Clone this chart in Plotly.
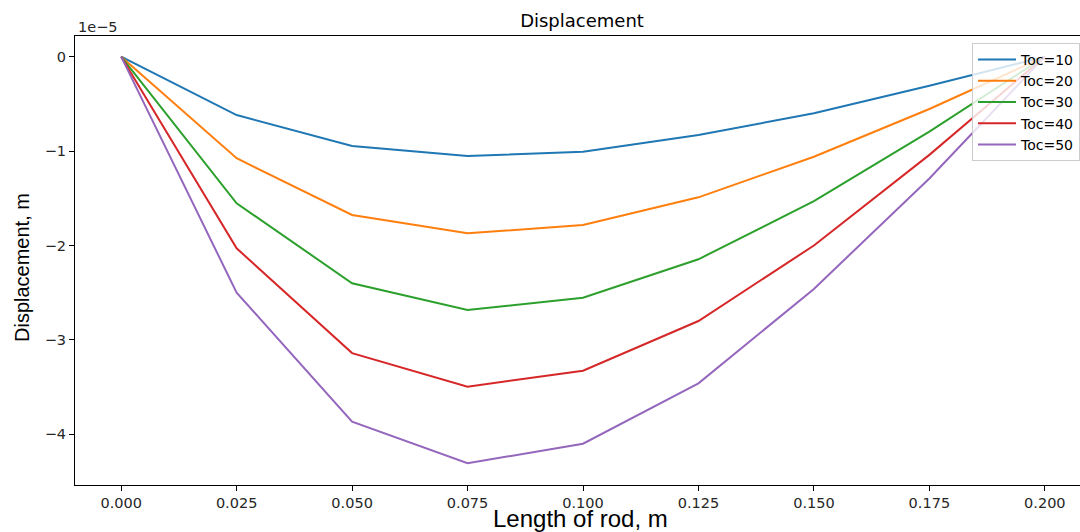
import plotly.graph_objects as go
import numpy as np

# Data (displacement in units of 1e-5 m)
x_len = [0.0, 0.025, 0.05, 0.075, 0.1, 0.125, 0.15, 0.175, 0.2]
disp_toc10 = [0, -0.618, -0.946, -1.052, -1.006, -0.829, -0.600, -0.307, 0]
disp_toc20 = [0, -1.076, -1.677, -1.871, -1.783, -1.490, -1.060, -0.554, 0]
disp_toc30 = [0, -1.553, -2.400, -2.683, -2.553, -2.146, -1.530, -0.794, 0]
disp_toc40 = [0, -2.030, -3.140, -3.496, -3.326, -2.800, -2.000, -1.040, 0]
disp_toc50 = [0, -2.500, -3.866, -4.307, -4.100, -3.460, -2.460, -1.290, 0]
series_names = ["Toc=10", "Toc=20", "Toc=30", "Toc=40", "Toc=50"]
scale = 1e-5
x_ticks = [0.0, 0.025, 0.05, 0.075, 0.1, 0.125, 0.15, 0.175, 0.2]
x_ticklabels = ["0.000", "0.025", "0.050", "0.075", "0.100", "0.125", "0.150", "0.175", "0.200"]
y_ticks = [0, -1, -2, -3, -4]
y_ticklabels = ["0", "\u22121", "\u22122", "\u22123", "\u22124"]

colors = ["#1f77b4", "#ff7f0e", "#2ca02c", "#d62728", "#9467bd"]

W, H = 1080, 532
L, T, B = 75, 36, 47
PW, PH = W - L, H - T - B


def px_x(px):
    return (px - L) / PW


def px_y(py):
    return (H - B - py) / PH


fig = go.Figure()
for name, vals, c in zip(series_names,
                         [disp_toc10, disp_toc20, disp_toc30, disp_toc40, disp_toc50],
                         colors):
    fig.add_trace(go.Scatter(x=x_len, y=np.array(vals) * scale, mode="lines",
                             name=name, line=dict(color=c, width=2)))

font_main = "DejaVu Sans"
fig.update_layout(
    width=W, height=H,
    margin=dict(l=L, r=0, t=T, b=B, autoexpand=False),
    paper_bgcolor="white", plot_bgcolor="white",
    showlegend=True,
    font=dict(family=font_main, size=14, color="#262626"),
    title=dict(text="Displacement", x=582 / W, xref="container", xanchor="center",
               y=1 - 21 / H, yref="container", yanchor="middle",
               font=dict(family=font_main, size=18, color="black")),
    legend=dict(x=px_x(972), y=px_y(43), xanchor="left", yanchor="top",
                bgcolor="rgba(255,255,255,0.8)", bordercolor="#cccccc", borderwidth=1,
                font=dict(family=font_main, size=14, color="black"),
                tracegroupgap=0, itemwidth=38),
    xaxis=dict(range=[-0.01, -0.01 + 0.22 * PW / 1016], tickvals=x_ticks, ticktext=x_ticklabels,
               showgrid=False, zeroline=False, showline=True, linecolor="black", linewidth=1,
               mirror=True, ticks="outside", ticklen=5, tickcolor="black",
               tickfont=dict(family=font_main, size=14.5, color="#262626")),
    yaxis=dict(range=[-4.537e-5, 0.219e-5], tickvals=[v * scale for v in y_ticks], ticktext=y_ticklabels,
               showgrid=False, zeroline=False, showline=True, linecolor="black", linewidth=1,
               mirror=False, ticks="outside", ticklen=5, tickcolor="black",
               tickfont=dict(family=font_main, size=14.5, color="#262626")),
    annotations=[
        dict(text="1e\u22125", x=px_x(76), y=px_y(27), xref="paper", yref="paper",
             xanchor="left", yanchor="middle", showarrow=False,
             font=dict(family=font_main, size=14.5, color="#262626")),
        dict(text="Length of rod, m", x=px_x(580), y=px_y(518), xref="paper", yref="paper",
             xanchor="center", yanchor="middle", showarrow=False,
             font=dict(family="Liberation Sans", size=24, color="black")),
        dict(text="Displacement, m", x=px_x(22), y=px_y(268), xref="paper", yref="paper",
             xanchor="center", yanchor="middle", showarrow=False, textangle=-90,
             font=dict(family="Liberation Sans", size=20, color="black")),
    ],
)

fig.write_html("out.html", config={"displayModeBar": False},
               post_script="document.body.style.margin='0';")
